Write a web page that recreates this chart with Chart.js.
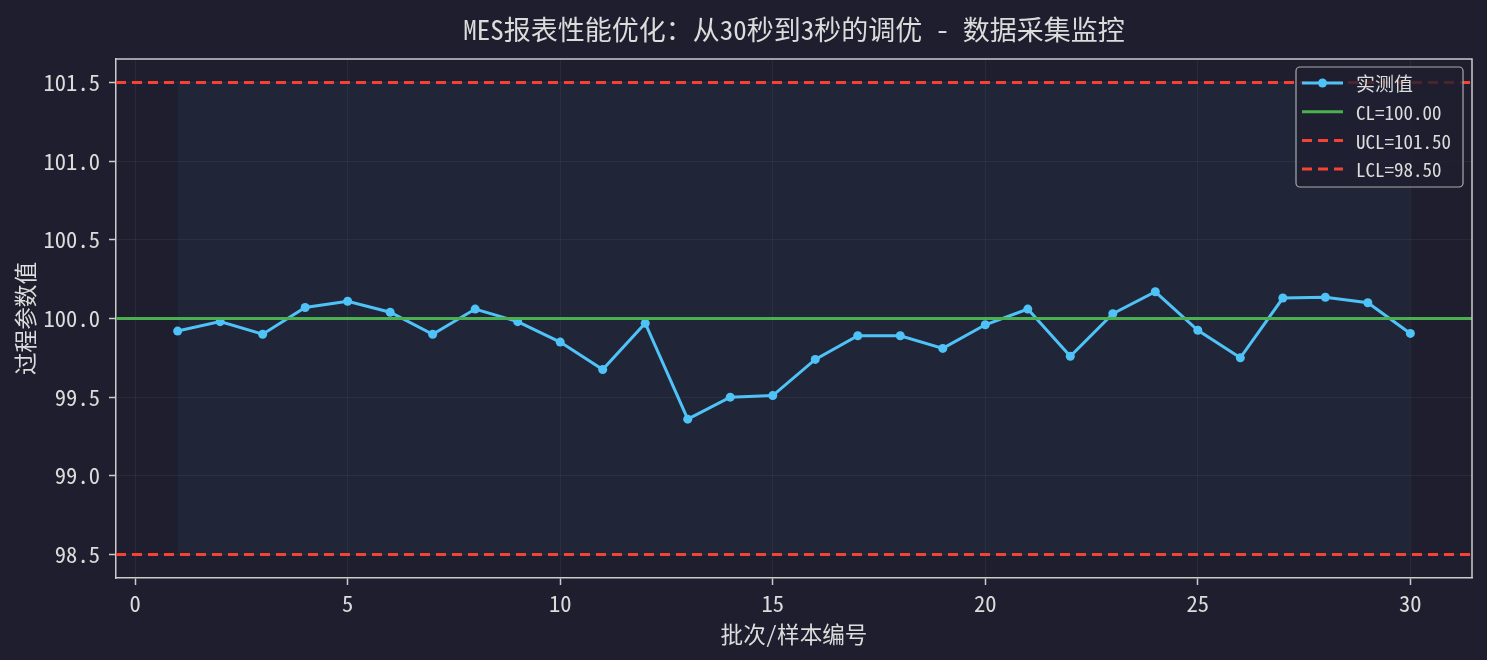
<!DOCTYPE html>
<html>
<head>
<meta charset="utf-8">
<script src="https://cdn.jsdelivr.net/npm/chart.js@4.4.1/dist/chart.umd.min.js"></script>
<style>
  html, body { margin: 0; padding: 0; background: #1e1e2e; }
  #wrap { width: 1487px; height: 660px; }
</style>
</head>
<body>
<div id="wrap"><canvas id="spc"></canvas></div>
<script>
// sample numbers and measured values
const batches = [1, 2, 3, 4, 5, 6, 7, 8, 9, 10, 11, 12, 13, 14, 15,
                 16, 17, 18, 19, 20, 21, 22, 23, 24, 25, 26, 27, 28, 29, 30];
const measured = [99.92, 99.98, 99.90, 100.07, 100.11, 100.04, 99.90, 100.06, 99.98, 99.85,
                  99.675, 99.97, 99.36, 99.50, 99.51, 99.74, 99.89, 99.89, 99.81, 99.96,
                  100.06, 99.76, 100.03, 100.17, 99.925, 99.75, 100.13, 100.135, 100.10, 99.905];
const CL = 100.0;
const UCL = 101.5;
const LCL = 98.5;
const xTicks = [0, 5, 10, 15, 20, 25, 30];
const yTicks = [98.5, 99.0, 99.5, 100.0, 100.5, 101.0, 101.5];
const xMin = -0.45, xMax = 31.45;
const yMin = 98.35, yMax = 101.65;

const FONT = "'Noto Sans Mono CJK SC', 'Noto Sans CJK SC', 'DejaVu Sans Mono', monospace";
const BG = '#1e1e2e';
const TXT = '#dcdcdc';
const BLUE = '#4fc3f7';
const GREEN = '#4caf50';
const RED = '#f44336';

const hline = v => [{x: xMin, y: v}, {x: xMax, y: v}];
const bandEdge = v => [{x: batches[0], y: v}, {x: batches[batches.length - 1], y: v}];

const legendItems = [
  {label: '实测值', color: BLUE, dash: [], marker: true},
  {label: 'CL=' + CL.toFixed(2), color: GREEN, dash: [], marker: false},
  {label: 'UCL=' + UCL.toFixed(2), color: RED, dash: [10, 6], marker: false},
  {label: 'LCL=' + LCL.toFixed(2), color: RED, dash: [10, 6], marker: false}
];

const bgPlugin = {
  id: 'bg',
  beforeDraw(chart) {
    const c = chart.ctx;
    c.save();
    c.fillStyle = BG;
    c.fillRect(0, 0, chart.width, chart.height);
    c.restore();
  }
};

// top + right spines and the legend box
const framePlugin = {
  id: 'frame',
  afterDraw(chart) {
    const c = chart.ctx;
    const a = chart.chartArea;
    c.save();
    c.strokeStyle = '#cccccc';
    c.lineWidth = 1.5;
    c.beginPath();
    c.moveTo(a.left, a.top);
    c.lineTo(a.right, a.top);
    c.lineTo(a.right, a.bottom);
    c.stroke();

    const bx = 1296, by = 67, bw = 167, bh = 120, r = 4;
    c.beginPath();
    c.roundRect(bx, by, bw, bh, r);
    c.fillStyle = 'rgba(30,30,46,0.8)';
    c.fill();
    c.strokeStyle = '#aaaaaa';
    c.lineWidth = 1.2;
    c.stroke();

    c.font = '19px ' + FONT;
    c.textBaseline = 'middle';
    legendItems.forEach((it, i) => {
      const y = 83 + i * 28.7;
      c.strokeStyle = it.color;
      c.lineWidth = 3;
      c.setLineDash(it.dash);
      c.beginPath();
      c.moveTo(1302, y);
      c.lineTo(1343, y);
      c.stroke();
      c.setLineDash([]);
      if (it.marker) {
        c.fillStyle = it.color;
        c.beginPath();
        c.arc(1322.5, y, 4.5, 0, Math.PI * 2);
        c.fill();
      }
      c.fillStyle = TXT;
      c.fillText(it.label, 1356, y + 1);
    });
    c.restore();
  }
};

new Chart(document.getElementById('spc'), {
  type: 'line',
  data: {
    datasets: [
      {
        label: 'band-top',
        data: bandEdge(UCL),
        borderWidth: 0,
        pointRadius: 0,
        backgroundColor: 'rgba(79,195,247,0.05)',
        fill: '+1',
        order: 5
      },
      {
        label: 'band-bottom',
        data: bandEdge(LCL),
        borderWidth: 0,
        pointRadius: 0,
        fill: false,
        order: 6
      },
      {
        label: '实测值',
        data: batches.map((b, i) => ({x: b, y: measured[i]})),
        borderColor: BLUE,
        backgroundColor: BLUE,
        borderWidth: 3,
        pointRadius: 4.5,
        pointBorderWidth: 0,
        pointBackgroundColor: BLUE,
        tension: 0,
        order: 3
      },
      {
        label: 'CL',
        data: hline(CL),
        borderColor: GREEN,
        borderWidth: 3,
        pointRadius: 0,
        order: 2
      },
      {
        label: 'UCL',
        data: hline(UCL),
        borderColor: RED,
        borderWidth: 3,
        borderDash: [10, 6],
        pointRadius: 0,
        order: 1
      },
      {
        label: 'LCL',
        data: hline(LCL),
        borderColor: RED,
        borderWidth: 3,
        borderDash: [10, 6],
        pointRadius: 0,
        order: 0
      }
    ]
  },
  options: {
    responsive: true,
    maintainAspectRatio: false,
    animation: false,
    events: [],
    layout: { padding: { left: 0, right: 15, top: 0, bottom: 0 } },
    plugins: {
      legend: { display: false },
      tooltip: { enabled: false },
      title: {
        display: true,
        fullSize: false,
        text: 'MES报表性能优化：从30秒到3秒的调优 - 数据采集监控',
        color: TXT,
        font: { family: FONT, size: 27, weight: 'normal', lineHeight: 1.2 },
        padding: { top: 13.5, bottom: 13.1 }
      }
    },
    scales: {
      x: {
        type: 'linear',
        min: xMin,
        max: xMax,
        afterBuildTicks: s => { s.ticks = xTicks.map(v => ({value: v})); },
        afterFit: s => { s.height = 82; },
        ticks: {
          color: TXT,
          padding: 5,
          font: { family: FONT, size: 22.6 },
          callback: v => String(v)
        },
        grid: {
          color: 'rgba(255,255,255,0.05)',
          lineWidth: 1,
          tickColor: '#cccccc',
          tickWidth: 1.5,
          tickLength: 7
        },
        border: { color: '#cccccc', width: 1.5 },
        title: {
          display: true,
          text: '批次/样本编号',
          color: TXT,
          font: { family: FONT, size: 22.6, lineHeight: 1.2 },
          padding: { top: 0, bottom: 12.5 }
        }
      },
      y: {
        type: 'linear',
        min: yMin,
        max: yMax,
        afterBuildTicks: s => { s.ticks = yTicks.map(v => ({value: v})); },
        afterFit: s => { s.width = 116; },
        ticks: {
          color: TXT,
          padding: 9,
          font: { family: FONT, size: 22.6 },
          callback: v => Number(v).toFixed(1)
        },
        grid: {
          color: 'rgba(255,255,255,0.05)',
          lineWidth: 1,
          tickColor: '#cccccc',
          tickWidth: 1.5,
          tickLength: 7
        },
        border: { color: '#cccccc', width: 1.5 },
        title: {
          display: true,
          text: '过程参数值',
          color: TXT,
          font: { family: FONT, size: 22.6, lineHeight: 1.2 },
          padding: { top: 11.5, bottom: 0 }
        }
      }
    }
  },
  plugins: [bgPlugin, framePlugin]
});
</script>
</body>
</html>
